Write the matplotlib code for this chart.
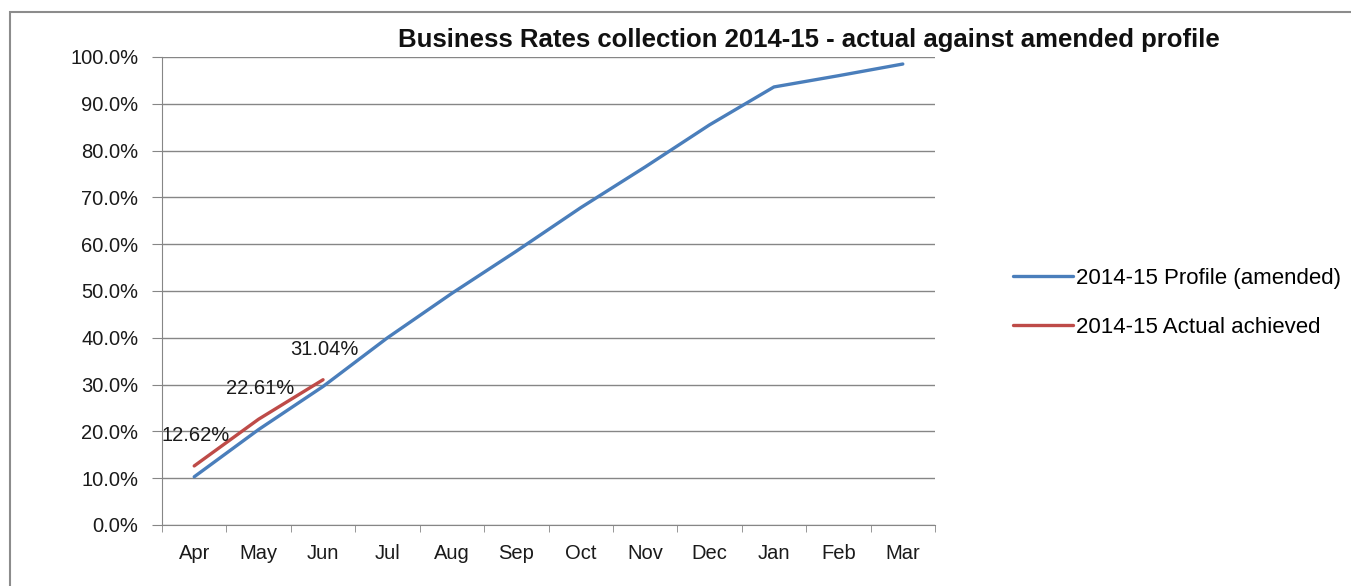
import matplotlib
matplotlib.use('Agg')
import matplotlib.pyplot as plt
from matplotlib.patches import Rectangle
from matplotlib.ticker import FuncFormatter, FixedLocator

plt.rcParams['font.family'] = ['Liberation Sans', 'DejaVu Sans']

# data
months = ['Apr', 'May', 'Jun', 'Jul', 'Aug', 'Sep', 'Oct', 'Nov', 'Dec', 'Jan', 'Feb', 'Mar']
profile = [10.3, 20.4, 29.6, 40.0, 49.5, 58.5, 67.8, 76.5, 85.5, 93.6, 96.0, 98.5]
actual = [12.62, 22.61, 31.04]
actual_labels = ['12.62%', '22.61%', '31.04%']

title = 'Business Rates collection 2014-15 - actual against amended profile'
profile_name = '2014-15 Profile (amended)'
actual_name = '2014-15 Actual achieved'

W, H = 1351, 586
fig = plt.figure(figsize=(W / 100, H / 100), dpi=100)
fig.patches.append(Rectangle((10 / W, -0.01), 1.02, 1 - 12 / H + 0.01,
                             transform=fig.transFigure, fill=False,
                             edgecolor='#8c8c8c', linewidth=1.5))

ax = fig.add_axes([162 / W, 1 - 525 / H, 773 / W, 468 / H])

x = list(range(len(months)))
ax.plot(x, profile, color='#4A7EBB', linewidth=2.4, solid_capstyle='round',
        label=profile_name)
ax.plot(x[:len(actual)], actual, color='#BE4B48', linewidth=2.4,
        solid_capstyle='round', label=actual_name)

for i, (v, lab) in enumerate(zip(actual, actual_labels)):
    ax.annotate(lab, (x[i], v), xytext=(1, 22), textcoords='offset points',
                ha='center', va='center', fontsize=14.5, color='#1a1a1a')

ax.set_xlim(-0.5, len(months) - 0.5)
ax.set_ylim(0, 100)
ax.set_yticks(range(0, 101, 10))
ax.yaxis.set_major_formatter(FuncFormatter(lambda v, p: f'{v:.1f}%'))
ax.set_xticks(x)
ax.set_xticklabels(months)
ax.xaxis.set_minor_locator(FixedLocator([i - 0.5 for i in range(len(months) + 1)]))
ax.tick_params(axis='x', which='major', length=0, pad=14, labelsize=14.5, colors='#1a1a1a')
ax.tick_params(axis='x', which='minor', length=5, color='#868686')
ax.tick_params(axis='y', length=7, color='#868686', labelsize=14.5, colors='#1a1a1a', pad=10)
ax.grid(axis='y', color='#868686', linewidth=1)
ax.set_axisbelow(True)
for s in ['top', 'right']:
    ax.spines[s].set_visible(False)
for s in ['left', 'bottom']:
    ax.spines[s].set_color('#868686')

fig.text(809 / W, 1 - 40 / H, title, ha='center', va='center', fontsize=18.5,
         fontweight='bold', color='#111111')

fig.legend(loc='center left', bbox_to_anchor=(993 / W, 1 - 303 / H), frameon=False,
           fontsize=16, handlelength=2.7, labelspacing=1.25, handletextpad=0.15)

fig.savefig('out.png', dpi=100)
